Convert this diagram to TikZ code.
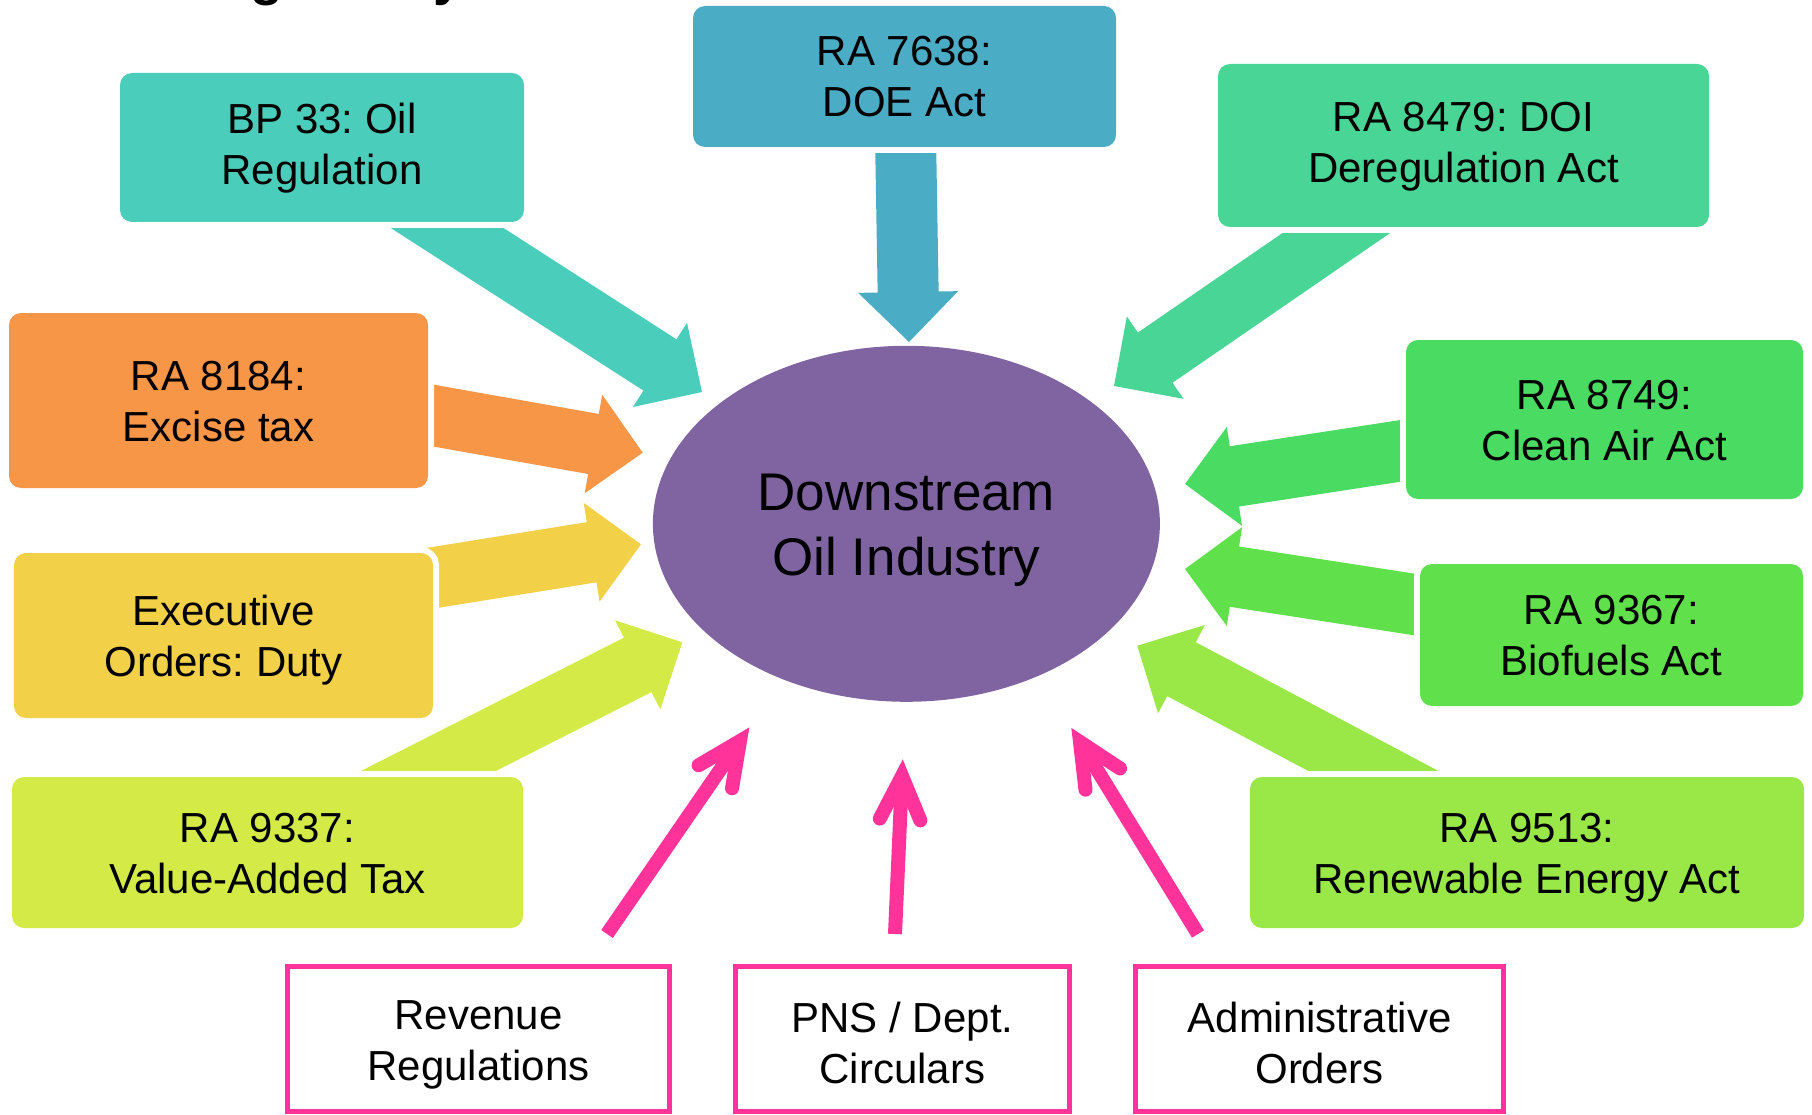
\documentclass[tikz,border=0pt]{standalone}
\usepackage{fontspec}
\setmainfont{Liberation Sans}
\usetikzlibrary{calc,backgrounds,shapes.geometric}
\frenchspacing

\definecolor{bpcol}{RGB}{74,205,187}
\definecolor{doecol}{RGB}{75,172,198}
\definecolor{doicol}{RGB}{72,213,150}
\definecolor{exccol}{RGB}{247,150,70}
\definecolor{eocol}{RGB}{242,208,72}
\definecolor{vatcol}{RGB}{212,235,71}
\definecolor{caacol}{RGB}{74,219,98}
\definecolor{biocol}{RGB}{96,224,74}
\definecolor{recol}{RGB}{154,232,71}
\definecolor{oilcol}{RGB}{128,100,162}
\definecolor{pinkcol}{RGB}{255,51,153}

% block arrow: colour, from, to
\newcommand{\fatarrow}[3]{%
  \coordinate (fa-n) at ($(#3)!50pt!(#2)$);
  \fill[#1] ($(#2)!30.5pt!90:(#3)$) -- ($(fa-n)!30.5pt!90:(#3)$)
    -- ($(fa-n)!50pt!90:(#3)$) -- (#3) -- ($(fa-n)!50pt!-90:(#3)$)
    -- ($(fa-n)!30.5pt!-90:(#3)$) -- ($(#2)!30.5pt!-90:(#3)$) -- cycle;}

% open pink arrow: from, to
\newcommand{\pinkarrow}[2]{%
  \draw[pinkline] (#1) -- (#2);
  \draw[pinkline,line cap=round,line join=miter]
    ($(#2)!48pt!25:(#1)$) -- (#2) -- ($(#2)!48pt!-25:(#1)$);}

\begin{document}
\begin{tikzpicture}
[x=1pt,y=-1pt,
 struts/.style 2 args={execute at begin node={\rule{0pt}{#1}},
   execute at end node={\rule[-#2]{0pt}{#2}}},
 law/.style={fill=#1,rounded corners=12pt,preaction={draw=white,line width=12pt},
   align=center,inner sep=0pt,font=\fontsize{42}{51}\selectfont,struts={91pt}{10pt}},
 order/.style={draw=pinkcol,line width=5pt,align=center,inner sep=0pt,
   minimum height=145pt,font=\fontsize{42}{51}\selectfont,struts={91pt}{2pt}},
 pinkline/.style={draw=pinkcol,line width=14pt}]
\useasboundingbox (0,0) rectangle (1812,1115);

\node[anchor=base west,inner sep=0pt,font=\fontsize{54}{60}\selectfont\bfseries]
  (title) at (181,-5) {Regulatory Framework};

\node[law=bpcol,struts={91pt}{17pt},minimum width=404pt,minimum height=149pt] (bp) at (322,147.5) {BP 33: Oil\\Regulation};
\node[law=doecol,minimum width=423pt,minimum height=141pt] (doe) at (904.5,76.5) {RA 7638:\\DOE Act};
\node[law=doicol,struts={91pt}{17pt},minimum width=491pt,minimum height=163pt] (doi) at (1463.5,145.5) {RA 8479: DOI\\Deregulation Act};
\node[law=exccol,minimum width=419pt,minimum height=175pt] (exc) at (218.5,400.5) {RA 8184:\\Excise tax};
\node[law=eocol,minimum width=419pt,minimum height=165pt] (eo) at (223.5,635.5) {Executive\\Orders: Duty};
\node[law=vatcol,minimum width=511pt,minimum height=151pt] (vat) at (267.5,852.5) {RA 9337:\\Value-Added Tax};
\node[law=caacol,minimum width=397pt,minimum height=159pt] (caa) at (1604.5,419.5) {RA 8749:\\Clean Air Act};
\node[law=biocol,minimum width=383pt,minimum height=142pt] (bio) at (1611.5,635) {RA 9367:\\Biofuels Act};
\node[law=recol,minimum width=554pt,minimum height=151pt] (re) at (1527,852.5) {RA 9513:\\Renewable Energy Act};

\node[ellipse,fill=oilcol,minimum width=507pt,minimum height=356pt,inner sep=0pt,
  align=center,font=\fontsize{53}{65}\selectfont,struts={115pt}{6pt}] (oil) at (906.4,523.8) {Downstream\\Oil Industry};

\node[order,minimum width=382pt] (rr) at (478.5,1039) {Revenue\\Regulations};
\node[order,minimum width=334pt] (pns) at (902.5,1039) {PNS / Dept.\\Circulars};
\node[order,minimum width=368pt] (ao) at (1319.5,1039) {Administrative\\Orders};

\coordinate (exc-o) at ([yshift=23pt]exc.center);
\coordinate (eo-o) at ([yshift=24pt]eo.center);
\coordinate (bp-tip) at (702,392);
\coordinate (doe-tip) at (909,342);
\coordinate (doi-tip) at (1114,386);
\coordinate (exc-tip) at (642.7,452.7);
\coordinate (eo-tip) at (641,544.3);
\coordinate (vat-tip) at (682.3,642.3);
\coordinate (caa-tip) at (1185,484);
\coordinate (bio-tip) at (1185,569);
\coordinate (re-tip) at (1137.3,645.7);

\begin{scope}[on background layer]
\fatarrow{bpcol}{bp.center}{bp-tip}
\fatarrow{doecol}{doe.center}{doe-tip}
\fatarrow{doicol}{doi.center}{doi-tip}
\fatarrow{exccol}{exc-o}{exc-tip}
\fatarrow{eocol}{eo-o}{eo-tip}
\fatarrow{vatcol}{vat.center}{vat-tip}
\fatarrow{caacol}{caa.center}{caa-tip}
\fatarrow{biocol}{bio.center}{bio-tip}
\fatarrow{recol}{re.center}{re-tip}
\end{scope}

\coordinate (rr-o) at (607,934);
\coordinate (rr-i) at (740,741);
\coordinate (pns-o) at (895,934);
\coordinate (pns-i) at (902,776);
\coordinate (ao-o) at (1198,934);
\coordinate (ao-i) at (1080,742);

\pinkarrow{rr-o}{rr-i}
\pinkarrow{pns-o}{pns-i}
\pinkarrow{ao-o}{ao-i}
\end{tikzpicture}
\end{document}
